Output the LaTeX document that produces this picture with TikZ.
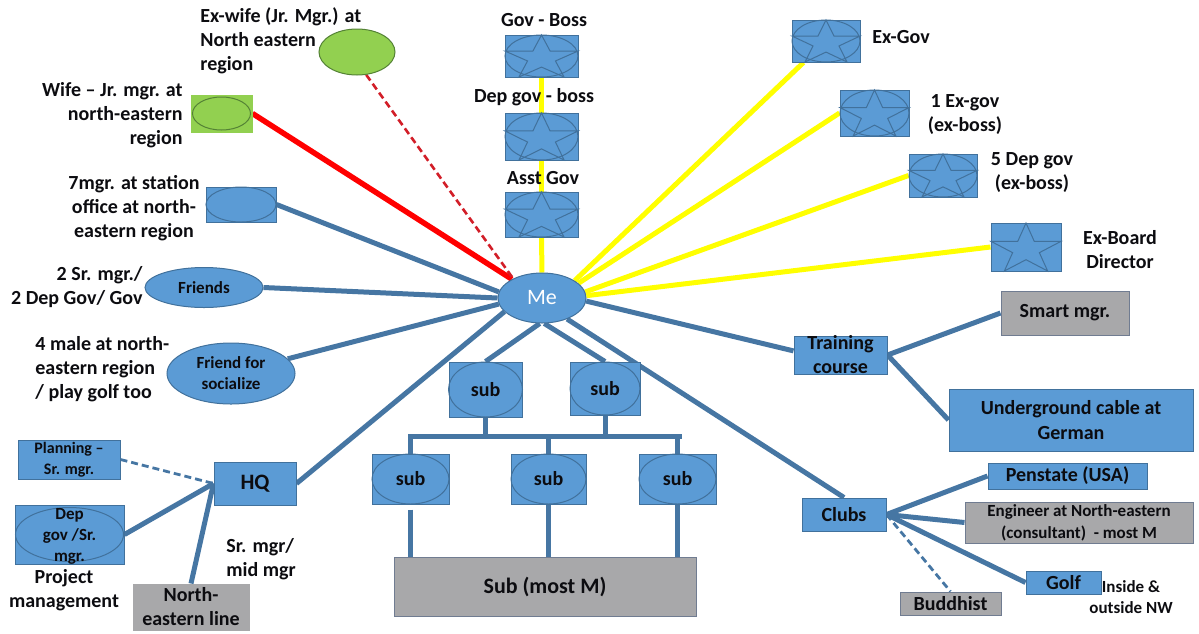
\documentclass[tikz,border=0pt]{standalone}
\usepackage{fontspec}
\setmainfont{Carlito}
\usetikzlibrary{shapes.geometric,backgrounds}

\definecolor{boxblue}{RGB}{91,155,213}
\definecolor{edgeblue}{RGB}{65,113,156}
\definecolor{linkblue}{RGB}{70,118,163}
\definecolor{boxgray}{RGB}{168,168,170}
\definecolor{graybd}{RGB}{112,124,145}
\definecolor{leaf}{RGB}{146,208,80}
\definecolor{leafbd}{RGB}{84,130,53}
\definecolor{hot}{RGB}{255,0,0}
\definecolor{hotdark}{RGB}{210,30,40}
\definecolor{sun}{RGB}{255,255,0}
\definecolor{ink}{RGB}{12,12,16}

\tikzset{
  lbl/.style={font=\bfseries\fontsize{10}{12}\selectfont, text=ink, inner sep=0pt},
  bbox/.style 2 args={rectangle, draw=edgeblue, line width=0.5pt, fill=boxblue,
    minimum width=#1*0.5pt, minimum height=#2*0.5pt, inner sep=0pt, align=center, lbl},
  gbox/.style 2 args={bbox={#1}{#2}, fill=boxgray, draw=graybd},
  oval/.style 2 args={ellipse, draw=edgeblue, line width=0.5pt, fill=boxblue,
    minimum width=#1*0.5pt, minimum height=#2*0.5pt, inner sep=0pt, align=center, lbl},
  link/.style={draw=linkblue, line width=2.5pt},
  dlink/.style={draw=linkblue, line width=1.4pt, dash pattern=on 3.5pt off 2pt},
  gold/.style={draw=sun, line width=2.5pt},
  redlink/.style={draw=hot, line width=2.75pt},
  reddash/.style={draw=hotdark, line width=1.3pt, dash pattern=on 3.5pt off 2pt},
  markline/.style={draw=edgeblue, line width=0.5pt}
}

% ellipse outline inside a box: node name, box width and height in px
\newcommand\ovalin[4][edgeblue]{%
  \pgfmathsetmacro\sbhw{#3/4}\pgfmathsetmacro\sbhh{#4/4}%
  \draw[draw=#1, line width=0.5pt] (#2.center) ellipse [x radius=\sbhw pt, y radius=\sbhh pt];}

% five-pointed star stretched to fill a box: node name, box width and height in px
\newcommand\starin[3]{%
  \pgfmathsetmacro\sbhw{#2/4}\pgfmathsetmacro\sbhh{#3/4}%
  \begin{scope}[shift={(#1.center)}, x=\sbhw pt, y=\sbhh pt]
    \draw[markline] (0,1) -- (0.236,0.236) -- (1,0.236) -- (0.382,-0.236) -- (0.618,-1)
      -- (0,-0.528) -- (-0.618,-1) -- (-0.382,-0.236) -- (-1,0.236) -- (-0.236,0.236) -- cycle;
  \end{scope}}

\begin{document}
\begin{tikzpicture}[x=0.5pt,y=-0.5pt]
\useasboundingbox (0,0) rectangle (1199,633);

% ---- family
\node[oval={76}{46}, fill=leaf, draw=leafbd] (exwife) at (357,52) {};
\node[bbox={61}{37}, fill=leaf, draw=leaf] (wife) at (221.5,113.5) {};
\ovalin[leafbd]{wife}{58}{33}
\node[lbl, anchor=west, align=left] (exwifet) at (200,41) {Ex-wife (Jr. Mgr.) at\\North eastern\\region};
\node[lbl, anchor=east, align=right] (wifet) at (183,115) {Wife – Jr. mgr. at\\north-eastern\\region};

% ---- station office and friends
\node[bbox={70}{35}] (st) at (241,204.5) {};
\ovalin{st}{70}{35}
\node[lbl, align=center] (stt) at (134,208) {7mgr. at station\\office at north-\\eastern region};
\node[oval={118}{40}, font=\bfseries\fontsize{8.5}{10.5}\selectfont] (friends) at (204,287.5) {Friends};
\node[lbl, anchor=east, align=right] (friendst) at (143,287.5) {2 Sr. mgr./\\2 Dep Gov/ Gov};
\node[oval={128}{61}, font=\bfseries\fontsize{8.5}{10.5}\selectfont] (social) at (231,373.5) {Friend for\\socialize};
\node[lbl, anchor=west, align=left] (socialt) at (35,369) {4 male at north-\\eastern region\\/ play golf too};

% ---- headquarters
\node[bbox={82}{43}, font=\bfseries\fontsize{11}{13}\selectfont] (hq) at (255,483.5) {HQ};
\node[bbox={102}{39}, font=\bfseries\fontsize{8}{10.5}\selectfont] (plan) at (69,459.5) {Planning –\\Sr. mgr.};
\node[bbox={109}{59}] (pm) at (69.5,534.5) {};
\ovalin{pm}{108}{54}
\node[lbl, font=\bfseries\fontsize{8.5}{10.5}\selectfont, align=center] (pmt) at (69.5,536) {Dep\\gov /Sr.\\mgr.};
\node[lbl, align=center] (pmcap) at (64,590) {Project\\management};
\node[gbox={116}{46}, draw=boxgray] (ne) at (191,607) {North-\\eastern line};
\node[lbl, anchor=west, align=left] (midt) at (226,559.5) {Sr. mgr/\\mid mgr};

% ---- line of bosses
\node[bbox={73}{42}] (gov) at (541.5,56) {};
\node[bbox={73}{47}] (dgov) at (541.5,136.5) {};
\node[bbox={73}{45}] (asst) at (541.5,214.5) {};
\ovalin{gov}{73}{42}\starin{gov}{73}{42}
\ovalin{dgov}{73}{47}\starin{dgov}{73}{47}
\ovalin{asst}{73}{45}\starin{asst}{73}{45}
\node[lbl] (govt) at (544,20) {Gov - Boss};
\node[lbl] (dgovt) at (534,97) {Dep gov - boss};
\node[lbl] (asstt) at (543,178) {Asst Gov};

\node[oval={88}{50}, font=\mdseries\fontsize{11}{13}\selectfont, text=white] (me) at (542,298) {Me};

% ---- former bosses
\node[bbox={68}{42}] (exgov) at (826,41) {};
\node[bbox={69}{46}] (exone) at (874.5,113) {};
\node[bbox={68}{43}] (exdep) at (943,175.5) {};
\node[bbox={70}{48}] (board) at (1026,247) {};
\ovalin{exgov}{68}{42}\starin{exgov}{68}{42}
\ovalin{exone}{69}{46}\starin{exone}{69}{46}
\ovalin{exdep}{68}{43}\starin{exdep}{68}{43}
\starin{board}{70}{48}
\node[lbl, anchor=west] (exgovt) at (872,37) {Ex-Gov};
\node[lbl, align=center] (exonet) at (965,114.5) {1 Ex-gov\\(ex-boss)};
\node[lbl, align=center] (exdept) at (1032,172.5) {5 Dep gov\\(ex-boss)};
\node[lbl, align=center] (boardt) at (1120,249.5) {Ex-Board\\Director};

% ---- training and clubs
\node[bbox={93}{38}] (train) at (840.5,355) {};
\node[lbl, align=center] (traint) at (840.5,355) {Training\\course};
\node[gbox={128}{44}] (smart) at (1065,313) {Smart mgr.};
\node[bbox={244}{62}, font=\bfseries\fontsize{10}{12.5}\selectfont] (cable) at (1071,420) {Underground cable at\\German};
\node[bbox={84}{33}] (clubs) at (844,514.5) {Clubs};
\node[bbox={159}{26}] (pen) at (1067.5,476) {Penstate (USA)};
\node[gbox={228}{41}, font=\bfseries\fontsize{8.5}{11}\selectfont] (eng) at (1079,522.5) {Engineer at North-eastern\\(consultant)\ \ - most M};
\node[bbox={75}{23}] (golf) at (1063.5,582.5) {Golf};
\node[gbox={101}{23}] (bud) at (950.5,603.5) {Buddhist};
\node[lbl, font=\bfseries\fontsize{8.5}{10.5}\selectfont, align=center] (golft) at (1131,597) {Inside \&\\outside NW};

% ---- subordinates
\node[bbox={73}{55}] (sa) at (485.5,389.5) {sub};
\node[bbox={70}{53}] (sb) at (605,388.5) {sub};
\node[bbox={77}{50}] (sc) at (410.5,479) {sub};
\node[bbox={75}{50}] (sd) at (548.5,479) {sub};
\node[bbox={77}{50}] (se) at (677.5,479) {sub};
\ovalin{sa}{74}{55}\ovalin{sb}{70}{53}\ovalin{sc}{77}{50}\ovalin{sd}{75}{50}\ovalin{se}{77}{50}
\node[gbox={302}{59}, font=\bfseries\fontsize{11}{13}\selectfont] (subm) at (545,586.5) {Sub (most M)};
\coordinate (busl) at (408,436);
\coordinate (busr) at (682,436);

% ---- connectors, kept behind the boxes
\begin{scope}[on background layer]
  \draw[gold] (gov) -- (dgov);
  \draw[gold] (dgov) -- (asst);
  \draw[gold] (asst) -- (me);
  \draw[gold] (me.28) -- (exgov);
  \draw[gold] (me.22) -- (exone.west);
  \draw[gold] (me.8) -- (exdep.west);
  \draw[gold] (me.3) -- (board.west);
  \draw[redlink] (wife.east) -- (me.148);
  \draw[reddash] (exwife.-68) -- (me.146);
  \draw[link] (st.east) -- (me.172);
  \draw[link] (friends.east) -- (me.west);
  \draw[link] (social) -- (me.188);
  \draw[link] (hq.east) -- (me.200);
  \draw[link] (me.265) -- (sa.north);
  \draw[link] (me.275) -- (sb.north);
  \draw[link] (me.-40) -- (clubs.north);
  \draw[link] (me.-4) -- (train.175);
  \draw[link] (train.east) -- (smart.west);
  \draw[link] (train.east) -- (cable.west);
  \draw[link] (clubs.east) -- (pen.west);
  \draw[link] (clubs.east) -- (eng.west);
  \draw[link] (clubs.east) -- (golf.west);
  \draw[dlink] (clubs.east) -- (bud.north);
  \draw[dlink] (plan.east) -- (hq.west);
  \draw[link] (pm.east) -- (hq.west);
  \draw[link] (ne.north) -- (hq.west);
  \draw[link] (busl) -- (busr);
  \draw[link] (sa.south) -- (sa.south |- busl);
  \draw[link] (sb.south) -- (sb.south |- busl);
  \draw[link] (sc.north) -- (sc.north |- busl);
  \draw[link] (sd.north) -- (sd.north |- busl);
  \draw[link] (se.north) -- (se.north |- busl);
  \draw[link, shorten <=2.5pt] (sc.south) -- (sc.south |- subm.north);
  \draw[link] (sd.south) -- (sd.south |- subm.north);
  \draw[link] (se.south) -- (se.south |- subm.north);
\end{scope}
\end{tikzpicture}
\end{document}
